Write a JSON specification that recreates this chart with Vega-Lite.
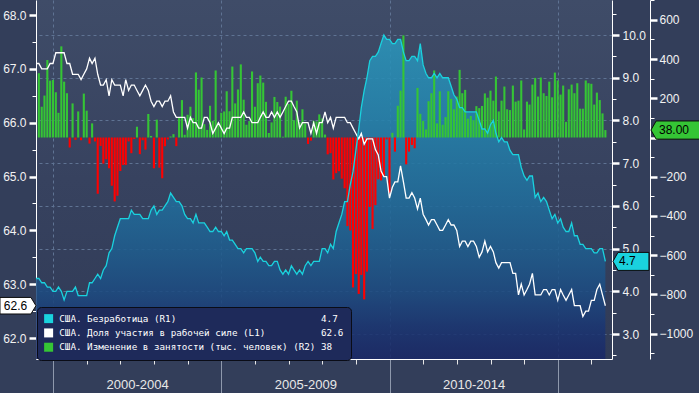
{
"$schema": "https://vega.github.io/schema/vega-lite/v6.json",
"width": 576, "height": 359,
"autosize": "none",
"padding": {"left": 36, "top": 0, "right": 87, "bottom": 34},
"background": "#333e5a",
"config": {
  "view": {"stroke": null, "fill": {"gradient": "linear", "x1": 0, "y1": 0, "x2": 0, "y2": 1, "stops": [{"offset": 0, "color": "#3f4c68"}, {"offset": 0.5, "color": "#37425f"}, {"offset": 1, "color": "#303b57"}]}},
  "axis": {"labelFont": "Liberation Sans", "labelFontSize": 12, "labelColor": "#f2f2f2", "domainColor": "#ffffff", "tickColor": "#ffffff", "labelOverlap": false, "labelFlush": false, "labelBound": false}
},
"datasets": {"d": [
{"date":"1999-06-30","ur":4.3,"lfpr":67.1,"emp":null},
{"date":"1999-07-31","ur":4.3,"lfpr":67.1,"emp":328},
{"date":"1999-08-31","ur":4.2,"lfpr":67.0,"emp":157},
{"date":"1999-09-30","ur":4.2,"lfpr":67.0,"emp":214},
{"date":"1999-10-31","ur":4.1,"lfpr":67.0,"emp":396},
{"date":"1999-11-30","ur":4.1,"lfpr":67.1,"emp":290},
{"date":"1999-12-31","ur":4.0,"lfpr":67.1,"emp":294},
{"date":"2000-01-31","ur":4.0,"lfpr":67.3,"emp":231},
{"date":"2000-02-29","ur":4.1,"lfpr":67.3,"emp":126},
{"date":"2000-03-31","ur":4.0,"lfpr":67.3,"emp":465},
{"date":"2000-04-30","ur":3.8,"lfpr":67.3,"emp":285},
{"date":"2000-05-31","ur":4.0,"lfpr":67.1,"emp":226},
{"date":"2000-06-30","ur":4.0,"lfpr":67.1,"emp":-51},
{"date":"2000-07-31","ur":4.0,"lfpr":66.9,"emp":174},
{"date":"2000-08-31","ur":4.1,"lfpr":66.9,"emp":-12},
{"date":"2000-09-30","ur":3.9,"lfpr":66.9,"emp":133},
{"date":"2000-10-31","ur":3.9,"lfpr":66.8,"emp":-14},
{"date":"2000-11-30","ur":3.9,"lfpr":66.9,"emp":224},
{"date":"2000-12-31","ur":3.9,"lfpr":67.0,"emp":137},
{"date":"2001-01-31","ur":4.2,"lfpr":67.2,"emp":-31},
{"date":"2001-02-28","ur":4.2,"lfpr":67.1,"emp":72},
{"date":"2001-03-31","ur":4.3,"lfpr":67.2,"emp":-20},
{"date":"2001-04-30","ur":4.4,"lfpr":66.9,"emp":-287},
{"date":"2001-05-31","ur":4.3,"lfpr":66.7,"emp":-43},
{"date":"2001-06-30","ur":4.5,"lfpr":66.7,"emp":-133},
{"date":"2001-07-31","ur":4.6,"lfpr":66.8,"emp":-111},
{"date":"2001-08-31","ur":4.9,"lfpr":66.5,"emp":-157},
{"date":"2001-09-30","ur":5.0,"lfpr":66.8,"emp":-246},
{"date":"2001-10-31","ur":5.3,"lfpr":66.7,"emp":-326},
{"date":"2001-11-30","ur":5.5,"lfpr":66.7,"emp":-297},
{"date":"2001-12-31","ur":5.7,"lfpr":66.7,"emp":-171},
{"date":"2002-01-31","ur":5.7,"lfpr":66.5,"emp":-140},
{"date":"2002-02-28","ur":5.7,"lfpr":66.8,"emp":-140},
{"date":"2002-03-31","ur":5.7,"lfpr":66.6,"emp":-20},
{"date":"2002-04-30","ur":5.9,"lfpr":66.7,"emp":-80},
{"date":"2002-05-31","ur":5.8,"lfpr":66.7,"emp":-8},
{"date":"2002-06-30","ur":5.8,"lfpr":66.6,"emp":55},
{"date":"2002-07-31","ur":5.8,"lfpr":66.5,"emp":-85},
{"date":"2002-08-31","ur":5.7,"lfpr":66.6,"emp":-14},
{"date":"2002-09-30","ur":5.7,"lfpr":66.7,"emp":-62},
{"date":"2002-10-31","ur":5.7,"lfpr":66.6,"emp":120},
{"date":"2002-11-30","ur":5.9,"lfpr":66.4,"emp":8},
{"date":"2002-12-31","ur":6.0,"lfpr":66.3,"emp":-157},
{"date":"2003-01-31","ur":5.8,"lfpr":66.4,"emp":91},
{"date":"2003-02-28","ur":5.9,"lfpr":66.4,"emp":-154},
{"date":"2003-03-31","ur":5.9,"lfpr":66.3,"emp":-208},
{"date":"2003-04-30","ur":6.0,"lfpr":66.4,"emp":-44},
{"date":"2003-05-31","ur":6.1,"lfpr":66.4,"emp":-10},
{"date":"2003-06-30","ur":6.3,"lfpr":66.5,"emp":5},
{"date":"2003-07-31","ur":6.2,"lfpr":66.2,"emp":17},
{"date":"2003-08-31","ur":6.1,"lfpr":66.1,"emp":-44},
{"date":"2003-09-30","ur":6.1,"lfpr":66.1,"emp":103},
{"date":"2003-10-31","ur":6.0,"lfpr":66.1,"emp":191},
{"date":"2003-11-30","ur":5.8,"lfpr":66.1,"emp":14},
{"date":"2003-12-31","ur":5.7,"lfpr":65.9,"emp":116},
{"date":"2004-01-31","ur":5.7,"lfpr":66.1,"emp":157},
{"date":"2004-02-29","ur":5.6,"lfpr":66.0,"emp":99},
{"date":"2004-03-31","ur":5.8,"lfpr":66.0,"emp":332},
{"date":"2004-04-30","ur":5.6,"lfpr":65.9,"emp":244},
{"date":"2004-05-31","ur":5.6,"lfpr":65.9,"emp":306},
{"date":"2004-06-30","ur":5.6,"lfpr":66.1,"emp":68},
{"date":"2004-07-31","ur":5.5,"lfpr":66.1,"emp":39},
{"date":"2004-08-31","ur":5.4,"lfpr":66.0,"emp":162},
{"date":"2004-09-30","ur":5.4,"lfpr":65.8,"emp":85},
{"date":"2004-10-31","ur":5.5,"lfpr":65.9,"emp":342},
{"date":"2004-11-30","ur":5.4,"lfpr":66.0,"emp":72},
{"date":"2004-12-31","ur":5.4,"lfpr":65.9,"emp":126},
{"date":"2005-01-31","ur":5.3,"lfpr":65.8,"emp":133},
{"date":"2005-02-28","ur":5.4,"lfpr":65.9,"emp":236},
{"date":"2005-03-31","ur":5.2,"lfpr":65.9,"emp":134},
{"date":"2005-04-30","ur":5.2,"lfpr":66.1,"emp":362},
{"date":"2005-05-31","ur":5.1,"lfpr":66.1,"emp":174},
{"date":"2005-06-30","ur":5.0,"lfpr":66.1,"emp":245},
{"date":"2005-07-31","ur":5.0,"lfpr":66.1,"emp":373},
{"date":"2005-08-31","ur":4.9,"lfpr":66.2,"emp":193},
{"date":"2005-09-30","ur":5.0,"lfpr":66.1,"emp":65},
{"date":"2005-10-31","ur":5.0,"lfpr":66.1,"emp":84},
{"date":"2005-11-30","ur":5.0,"lfpr":66.0,"emp":337},
{"date":"2005-12-31","ur":4.9,"lfpr":66.0,"emp":157},
{"date":"2006-01-31","ur":4.7,"lfpr":66.0,"emp":277},
{"date":"2006-02-28","ur":4.8,"lfpr":66.1,"emp":316},
{"date":"2006-03-31","ur":4.7,"lfpr":66.2,"emp":280},
{"date":"2006-04-30","ur":4.7,"lfpr":66.1,"emp":182},
{"date":"2006-05-31","ur":4.6,"lfpr":66.1,"emp":23},
{"date":"2006-06-30","ur":4.6,"lfpr":66.2,"emp":77},
{"date":"2006-07-31","ur":4.7,"lfpr":66.1,"emp":207},
{"date":"2006-08-31","ur":4.7,"lfpr":66.2,"emp":181},
{"date":"2006-09-30","ur":4.5,"lfpr":66.1,"emp":158},
{"date":"2006-10-31","ur":4.4,"lfpr":66.2,"emp":4},
{"date":"2006-11-30","ur":4.5,"lfpr":66.3,"emp":208},
{"date":"2006-12-31","ur":4.4,"lfpr":66.4,"emp":171},
{"date":"2007-01-31","ur":4.6,"lfpr":66.4,"emp":238},
{"date":"2007-02-28","ur":4.5,"lfpr":66.3,"emp":88},
{"date":"2007-03-31","ur":4.4,"lfpr":66.2,"emp":188},
{"date":"2007-04-30","ur":4.5,"lfpr":65.9,"emp":78},
{"date":"2007-05-31","ur":4.4,"lfpr":66.0,"emp":144},
{"date":"2007-06-30","ur":4.6,"lfpr":66.0,"emp":71},
{"date":"2007-07-31","ur":4.7,"lfpr":66.0,"emp":-33},
{"date":"2007-08-31","ur":4.6,"lfpr":65.8,"emp":-16},
{"date":"2007-09-30","ur":4.7,"lfpr":66.0,"emp":85},
{"date":"2007-10-31","ur":4.7,"lfpr":65.8,"emp":82},
{"date":"2007-11-30","ur":4.7,"lfpr":66.0,"emp":118},
{"date":"2007-12-31","ur":5.0,"lfpr":66.0,"emp":97},
{"date":"2008-01-31","ur":5.0,"lfpr":66.2,"emp":15},
{"date":"2008-02-29","ur":4.9,"lfpr":66.0,"emp":-86},
{"date":"2008-03-31","ur":5.1,"lfpr":66.1,"emp":-80},
{"date":"2008-04-30","ur":5.0,"lfpr":65.9,"emp":-214},
{"date":"2008-05-31","ur":5.4,"lfpr":66.1,"emp":-182},
{"date":"2008-06-30","ur":5.6,"lfpr":66.1,"emp":-172},
{"date":"2008-07-31","ur":5.8,"lfpr":66.1,"emp":-210},
{"date":"2008-08-31","ur":6.1,"lfpr":66.1,"emp":-259},
{"date":"2008-09-30","ur":6.1,"lfpr":66.0,"emp":-452},
{"date":"2008-10-31","ur":6.5,"lfpr":66.0,"emp":-474},
{"date":"2008-11-30","ur":6.8,"lfpr":65.9,"emp":-765},
{"date":"2008-12-31","ur":7.3,"lfpr":65.8,"emp":-697},
{"date":"2009-01-31","ur":7.8,"lfpr":65.7,"emp":-798},
{"date":"2009-02-28","ur":8.3,"lfpr":65.8,"emp":-701},
{"date":"2009-03-31","ur":8.7,"lfpr":65.6,"emp":-826},
{"date":"2009-04-30","ur":9.0,"lfpr":65.7,"emp":-684},
{"date":"2009-05-31","ur":9.4,"lfpr":65.7,"emp":-354},
{"date":"2009-06-30","ur":9.5,"lfpr":65.7,"emp":-467},
{"date":"2009-07-31","ur":9.5,"lfpr":65.5,"emp":-345},
{"date":"2009-08-31","ur":9.6,"lfpr":65.4,"emp":-213},
{"date":"2009-09-30","ur":9.8,"lfpr":65.1,"emp":-219},
{"date":"2009-10-31","ur":10.0,"lfpr":65.0,"emp":-196},
{"date":"2009-11-30","ur":9.9,"lfpr":65.0,"emp":-10},
{"date":"2009-12-31","ur":9.9,"lfpr":64.6,"emp":-282},
{"date":"2010-01-31","ur":9.8,"lfpr":64.8,"emp":24},
{"date":"2010-02-28","ur":9.8,"lfpr":64.9,"emp":-72},
{"date":"2010-03-31","ur":9.9,"lfpr":64.9,"emp":162},
{"date":"2010-04-30","ur":9.9,"lfpr":65.2,"emp":239},
{"date":"2010-05-31","ur":9.6,"lfpr":64.9,"emp":521},
{"date":"2010-06-30","ur":9.4,"lfpr":64.6,"emp":-137},
{"date":"2010-07-31","ur":9.4,"lfpr":64.6,"emp":-72},
{"date":"2010-08-31","ur":9.5,"lfpr":64.7,"emp":-38},
{"date":"2010-09-30","ur":9.5,"lfpr":64.6,"emp":-55},
{"date":"2010-10-31","ur":9.4,"lfpr":64.4,"emp":253},
{"date":"2010-11-30","ur":9.8,"lfpr":64.6,"emp":121},
{"date":"2010-12-31","ur":9.3,"lfpr":64.3,"emp":85},
{"date":"2011-01-31","ur":9.1,"lfpr":64.2,"emp":41},
{"date":"2011-02-28","ur":9.0,"lfpr":64.1,"emp":185},
{"date":"2011-03-31","ur":9.0,"lfpr":64.2,"emp":226},
{"date":"2011-04-30","ur":9.1,"lfpr":64.2,"emp":342},
{"date":"2011-05-31","ur":9.0,"lfpr":64.1,"emp":72},
{"date":"2011-06-30","ur":9.1,"lfpr":64.0,"emp":236},
{"date":"2011-07-31","ur":9.0,"lfpr":64.0,"emp":65},
{"date":"2011-08-31","ur":9.0,"lfpr":64.1,"emp":104},
{"date":"2011-09-30","ur":9.0,"lfpr":64.2,"emp":236},
{"date":"2011-10-31","ur":8.8,"lfpr":64.1,"emp":197},
{"date":"2011-11-30","ur":8.6,"lfpr":64.1,"emp":144},
{"date":"2011-12-31","ur":8.5,"lfpr":64.0,"emp":209},
{"date":"2012-01-31","ur":8.3,"lfpr":63.7,"emp":345},
{"date":"2012-02-29","ur":8.3,"lfpr":63.8,"emp":226},
{"date":"2012-03-31","ur":8.2,"lfpr":63.8,"emp":243},
{"date":"2012-04-30","ur":8.2,"lfpr":63.7,"emp":96},
{"date":"2012-05-31","ur":8.2,"lfpr":63.8,"emp":110},
{"date":"2012-06-30","ur":8.2,"lfpr":63.8,"emp":88},
{"date":"2012-07-31","ur":8.2,"lfpr":63.7,"emp":160},
{"date":"2012-08-31","ur":8.0,"lfpr":63.5,"emp":150},
{"date":"2012-09-30","ur":7.8,"lfpr":63.6,"emp":161},
{"date":"2012-10-31","ur":7.8,"lfpr":63.8,"emp":225},
{"date":"2012-11-30","ur":7.7,"lfpr":63.6,"emp":203},
{"date":"2012-12-31","ur":7.9,"lfpr":63.7,"emp":239},
{"date":"2013-01-31","ur":8.0,"lfpr":63.6,"emp":188},
{"date":"2013-02-28","ur":7.7,"lfpr":63.4,"emp":311},
{"date":"2013-03-31","ur":7.5,"lfpr":63.3,"emp":133},
{"date":"2013-04-30","ur":7.6,"lfpr":63.4,"emp":188},
{"date":"2013-05-31","ur":7.5,"lfpr":63.4,"emp":260},
{"date":"2013-06-30","ur":7.5,"lfpr":63.4,"emp":144},
{"date":"2013-07-31","ur":7.3,"lfpr":63.4,"emp":140},
{"date":"2013-08-31","ur":7.2,"lfpr":63.2,"emp":265},
{"date":"2013-09-30","ur":7.2,"lfpr":63.2,"emp":183},
{"date":"2013-10-31","ur":7.2,"lfpr":62.8,"emp":188},
{"date":"2013-11-30","ur":6.9,"lfpr":63.0,"emp":291},
{"date":"2013-12-31","ur":6.7,"lfpr":62.8,"emp":41},
{"date":"2014-01-31","ur":6.6,"lfpr":62.9,"emp":183},
{"date":"2014-02-28","ur":6.7,"lfpr":63.0,"emp":168},
{"date":"2014-03-31","ur":6.7,"lfpr":63.2,"emp":270},
{"date":"2014-04-30","ur":6.2,"lfpr":62.8,"emp":304},
{"date":"2014-05-31","ur":6.3,"lfpr":62.8,"emp":209},
{"date":"2014-06-30","ur":6.1,"lfpr":62.8,"emp":306},
{"date":"2014-07-31","ur":6.2,"lfpr":62.9,"emp":226},
{"date":"2014-08-31","ur":6.1,"lfpr":62.9,"emp":212},
{"date":"2014-09-30","ur":5.9,"lfpr":62.8,"emp":285},
{"date":"2014-10-31","ur":5.7,"lfpr":62.9,"emp":205},
{"date":"2014-11-30","ur":5.8,"lfpr":62.9,"emp":331},
{"date":"2014-12-31","ur":5.6,"lfpr":62.7,"emp":291},
{"date":"2015-01-31","ur":5.7,"lfpr":62.9,"emp":219},
{"date":"2015-02-28","ur":5.5,"lfpr":62.8,"emp":265},
{"date":"2015-03-31","ur":5.4,"lfpr":62.7,"emp":80},
{"date":"2015-04-30","ur":5.4,"lfpr":62.8,"emp":246},
{"date":"2015-05-31","ur":5.6,"lfpr":62.9,"emp":270},
{"date":"2015-06-30","ur":5.3,"lfpr":62.6,"emp":226},
{"date":"2015-07-31","ur":5.3,"lfpr":62.6,"emp":277},
{"date":"2015-08-31","ur":5.1,"lfpr":62.6,"emp":147},
{"date":"2015-09-30","ur":5.1,"lfpr":62.4,"emp":147},
{"date":"2015-10-31","ur":5.0,"lfpr":62.5,"emp":291},
{"date":"2015-11-30","ur":5.0,"lfpr":62.5,"emp":277},
{"date":"2015-12-31","ur":5.0,"lfpr":62.7,"emp":274},
{"date":"2016-01-31","ur":4.9,"lfpr":62.7,"emp":168},
{"date":"2016-02-29","ur":4.9,"lfpr":62.9,"emp":229},
{"date":"2016-03-31","ur":5.0,"lfpr":63.0,"emp":191},
{"date":"2016-04-30","ur":5.0,"lfpr":62.8,"emp":123},
{"date":"2016-05-31","ur":4.7,"lfpr":62.6,"emp":38}
]},
"data": {"name": "d"},
"encoding": {
  "x": {"field": "date", "type": "temporal",
    "scale": {"type": "utc", "padding": 0, "nice": false, "domain": [{"year": 1999, "month": 6, "date": 30, "utc": true}, {"year": 2016, "month": 8, "date": 11, "utc": true}]},
    "axis": {"title": null,
      "values": [{"year":2000,"month":1,"date":1,"utc":true},{"year":2001,"month":1,"date":1,"utc":true},{"year":2002,"month":1,"date":1,"utc":true},{"year":2003,"month":1,"date":1,"utc":true},{"year":2004,"month":1,"date":1,"utc":true},{"year":2005,"month":1,"date":1,"utc":true},{"year":2006,"month":1,"date":1,"utc":true},{"year":2007,"month":1,"date":1,"utc":true},{"year":2008,"month":1,"date":1,"utc":true},{"year":2009,"month":1,"date":1,"utc":true},{"year":2010,"month":1,"date":1,"utc":true},{"year":2011,"month":1,"date":1,"utc":true},{"year":2012,"month":1,"date":1,"utc":true},{"year":2013,"month":1,"date":1,"utc":true},{"year":2014,"month":1,"date":1,"utc":true},{"year":2015,"month":1,"date":1,"utc":true},{"year":2016,"month":1,"date":1,"utc":true}],
      "labelExpr": "utcyear(datum.value) % 5 == 0 && utcyear(datum.value) < 2015 ? utcyear(datum.value) + '-' + (utcyear(datum.value) + 4) : ''",
      "labelOffset": 84, "labelPadding": -15, "labelBaseline": "top", "labelAlign": "center",
      "labelFontSize": 13, "labelColor": "#e8e8e8",
      "tickSize": 34,
      "tickColor": {"condition": {"test": "utcyear(datum.value) % 5 == 0", "value": "#8e98ac"}, "value": "#e6e6e6"},
      "tickDash": {"condition": {"test": "utcyear(datum.value) % 5 == 0", "value": [40, 0]}, "value": [5, 60]},
      "grid": true, "gridDash": [3, 3], "gridColor": "#5f7393",
      "gridOpacity": {"condition": {"test": "utcyear(datum.value) % 5 == 0", "value": 1}, "value": 0}
    }
  }
},
"layer": [
  {"mark": {"type": "area", "interpolate": "linear", "opacity": 0.88,
     "color": {"gradient": "linear", "x1": 0, "y1": 0, "x2": 0, "y2": 1, "stops": [{"offset": 0, "color": "#2b95ba"}, {"offset": 0.25, "color": "#2584ad"}, {"offset": 0.5, "color": "#216e9c"}, {"offset": 0.68, "color": "#1f5b8c"}, {"offset": 0.8, "color": "#1d4a80"}, {"offset": 0.9, "color": "#1b3672"}, {"offset": 1, "color": "#1a2866"}]}},
   "encoding": {"y": {"field": "ur", "type": "quantitative", "scale": {"domain": [2.415, 10.82], "nice": false, "zero": false},
     "axis": {"orient": "right", "title": null,
       "values": [2.5,3,3.5,4,4.5,5,5.5,6,6.5,7,7.5,8,8.5,9,9.5,10,10.5],
       "labelExpr": "datum.value % 1 == 0 ? format(datum.value, '.1f') : ''",
       "tickSize": {"condition": {"test": "datum.value % 1 == 0", "value": 7}, "value": 4},
       "tickWidth": {"condition": {"test": "datum.value % 1 == 0", "value": 2.5}, "value": 1},
       "labelPadding": 3,
       "grid": true, "gridDash": [3, 3], "gridColor": "#5f7393",
       "gridOpacity": {"condition": {"test": "datum.value % 1 == 0", "value": 1}, "value": 0}}},
     "y2": {"datum": 2.415}}},
  {"mark": {"type": "bar", "size": 2.1},
   "encoding": {
     "y": {"field": "emp", "type": "quantitative", "scale": {"domain": [-1130, 701.5], "nice": false, "zero": false},
       "axis": {"orient": "right", "offset": 38, "title": null,
         "values": [-1100,-1000,-900,-800,-700,-600,-500,-400,-300,-200,-100,0,100,200,300,400,500,600,700],
         "labelExpr": "datum.value % 200 == 0 && datum.value != 0 ? format(datum.value, 'd') : ''",
         "tickSize": {"condition": {"test": "datum.value % 200 == 0", "value": 7}, "value": 4},
         "tickWidth": {"condition": {"test": "datum.value % 200 == 0", "value": 2.5}, "value": 1},
         "labelPadding": 2, "grid": false}},
     "y2": {"datum": 0},
     "color": {"condition": {"test": "datum.emp < 0", "value": "#ff0000"},
       "datum": "США. Изменение в занятости (тыс. человек) (R2)",
       "scale": {"domain": ["США. Безработица (R1)", "США. Доля участия в рабочей силе (L1)", "США. Изменение в занятости (тыс. человек) (R2)"], "range": ["#1ad2de", "#ffffff", "#35c535"]},
       "legend": {"orient": "none", "legendX": 1, "legendY": 307, "title": null, "direction": "vertical",
         "symbolType": "square", "symbolSize": 81, "symbolStrokeWidth": 0,
         "labelFont": "DejaVu Sans Mono", "labelFontSize": 9.25, "labelColor": "#ffffff", "labelOffset": 6, "labelLimit": 0,
         "rowPadding": 4.3, "padding": 7, "fillColor": "#1e2a5a", "strokeColor": "#0a0c16", "cornerRadius": 4,
         "labelExpr": "pad(datum.label, 47, '\u00a0') + (datum.label == 'США. Безработица (R1)' ? '4.7\u00a0\u00a0' : datum.label == 'США. Доля участия в рабочей силе (L1)' ? '62.6\u00a0' : '38\u00a0\u00a0\u00a0')",
         "encode": {"symbols": {"update": {"fill": {"scale": "color", "field": "value"}, "stroke": {"value": "transparent"}, "opacity": {"value": 1}}}}}}
   }},
  {"mark": {"type": "line", "strokeWidth": 1.3, "interpolate": "linear"},
   "encoding": {
     "y": {"field": "lfpr", "type": "quantitative", "scale": {"domain": [61.61, 68.28], "nice": false, "zero": false},
       "axis": {"orient": "left", "title": null,
         "values": [62,62.5,63,63.5,64,64.5,65,65.5,66,66.5,67,67.5,68],
         "labelExpr": "datum.value % 1 == 0 ? format(datum.value, '.1f') : ''",
         "tickSize": {"condition": {"test": "datum.value % 1 == 0", "value": 7}, "value": 4},
         "tickWidth": {"condition": {"test": "datum.value % 1 == 0", "value": 2.5}, "value": 1},
         "labelPadding": 3, "grid": false}},
     "color": {"datum": "США. Доля участия в рабочей силе (L1)", "legend": null}
   }},
  {"mark": {"type": "line", "strokeWidth": 1.3, "interpolate": "linear"},
   "encoding": {
     "y": {"field": "ur", "type": "quantitative", "scale": {"domain": [2.415, 10.82], "nice": false, "zero": false}, "axis": null},
     "color": {"datum": "США. Безработица (R1)", "legend": null}
   }},
  {"transform": [{"filter": {"field": "date", "equal": {"year": 2016, "month": 5, "date": 31, "utc": true}}}],
   "mark": {"type": "point", "shape": "M -1 -0.46 L 0.72 -0.46 L 1 0 L 0.72 0.46 L -1 0.46 Z", "size": 1296, "filled": true, "fill": "#ffffff", "stroke": "#0c0c0c", "strokeWidth": 1, "opacity": 1, "xOffset": -587.4},
   "encoding": {
     "y": {"field": "lfpr", "type": "quantitative", "scale": {"domain": [61.61, 68.28], "nice": false, "zero": false}, "axis": null}}},
  {"transform": [{"filter": {"field": "date", "equal": {"year": 2016, "month": 5, "date": 31, "utc": true}}}],
   "mark": {"type": "text", "font": "Liberation Sans", "fontSize": 12, "color": "#000000", "align": "center", "baseline": "middle", "xOffset": -589.9},
   "encoding": {
     "y": {"field": "lfpr", "type": "quantitative", "scale": {"domain": [61.61, 68.28], "nice": false, "zero": false}, "axis": null},
     "text": {"field": "lfpr", "type": "quantitative", "format": ".1f"}}},
  {"transform": [{"filter": {"field": "date", "equal": {"year": 2016, "month": 5, "date": 31, "utc": true}}}],
   "mark": {"type": "point", "shape": "M -1 0 L -0.72 -0.5 L 1 -0.5 L 1 0.5 L -0.72 0.5 Z", "size": 1296, "filled": true, "fill": "#1ad2de", "stroke": "#0c0c0c", "strokeWidth": 1, "opacity": 1, "xOffset": 25.6},
   "encoding": {
     "y": {"field": "ur", "type": "quantitative", "scale": {"domain": [2.415, 10.82], "nice": false, "zero": false}, "axis": null}}},
  {"transform": [{"filter": {"field": "date", "equal": {"year": 2016, "month": 5, "date": 31, "utc": true}}}],
   "mark": {"type": "text", "font": "Liberation Sans", "fontSize": 12, "color": "#000000", "align": "left", "baseline": "middle", "xOffset": 13.6},
   "encoding": {
     "y": {"field": "ur", "type": "quantitative", "scale": {"domain": [2.415, 10.82], "nice": false, "zero": false}, "axis": null},
     "text": {"field": "ur", "type": "quantitative", "format": ".1f"}}},
  {"transform": [{"filter": {"field": "date", "equal": {"year": 2016, "month": 5, "date": 31, "utc": true}}}],
   "mark": {"type": "point", "shape": "M -1 0 L -0.8 -0.35 L 1 -0.35 L 1 0.35 L -0.8 0.35 Z", "size": 2704, "filled": true, "fill": "#35c535", "stroke": "#0c0c0c", "strokeWidth": 1, "opacity": 1, "xOffset": 71.6},
   "encoding": {
     "y": {"field": "emp", "type": "quantitative", "scale": {"domain": [-1130, 701.5], "nice": false, "zero": false}, "axis": null}}},
  {"transform": [{"filter": {"field": "date", "equal": {"year": 2016, "month": 5, "date": 31, "utc": true}}}],
   "mark": {"type": "text", "font": "Liberation Sans", "fontSize": 12, "color": "#000000", "align": "left", "baseline": "middle", "xOffset": 53.6},
   "encoding": {
     "y": {"field": "emp", "type": "quantitative", "scale": {"domain": [-1130, 701.5], "nice": false, "zero": false}, "axis": null},
     "text": {"field": "emp", "type": "quantitative", "format": ".2f"}}}
],
"resolve": {"scale": {"y": "independent"}}
}
